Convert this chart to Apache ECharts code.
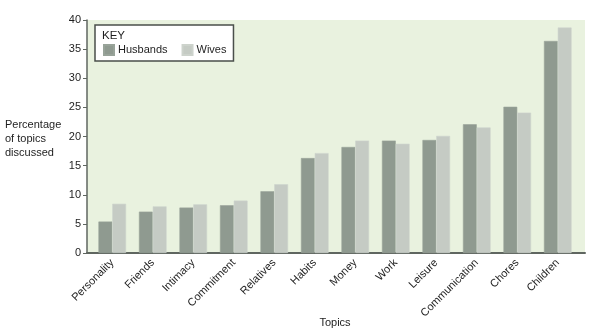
<!DOCTYPE html>
<html>
<head>
<meta charset="utf-8">
<script src="https://cdn.jsdelivr.net/npm/echarts@6/dist/echarts.min.js"></script>
<style>
  html, body { margin: 0; padding: 0; background: #ffffff; }
  #chart { width: 600px; height: 332px; }
</style>
</head>
<body>
<div id="chart"></div>
<script>
// Topics discussed by couples, share of each topic (%)
const topics = ['Personality', 'Friends', 'Intimacy', 'Commitment', 'Relatives', 'Habits',
                'Money', 'Work', 'Leisure', 'Communication', 'Chores', 'Children'];
const husbands = [5.4, 7.1, 7.8, 8.2, 10.6, 16.3, 18.2, 19.3, 19.4, 22.1, 25.1, 36.4];
const wives    = [8.45, 8.0, 8.35, 9.0, 11.8, 17.15, 19.3, 18.75, 20.1, 21.55, 24.1, 38.7];
const yTicks = { min: 0, max: 40, interval: 5 };

const FONT = '"Liberation Sans", Arial, sans-serif';
const TEXT = '#1e1e1e';
const AXIS = '#5f6660';
const C_HUS = '#8f9a90';
const C_WIV = '#c5cbc4';

const chart = echarts.init(document.getElementById('chart'), null, { renderer: 'canvas' });

chart.setOption({
  animation: false,
  textStyle: { fontFamily: FONT },
  title: {
    text: 'KEY',
    left: 102, top: 30, padding: 0,
    textStyle: { fontSize: 11.5, fontWeight: 'normal', color: TEXT, fontFamily: FONT }
  },
  legend: {
    data: ['Husbands', 'Wives'],
    left: 95, top: 25,
    padding: [19, 7, 5, 8],
    backgroundColor: '#ffffff',
    borderColor: '#4a4f4b',
    borderWidth: 1.5,
    icon: 'rect',
    itemWidth: 10, itemHeight: 10,
    itemGap: 14,
    textStyle: { fontSize: 11, color: TEXT, fontFamily: FONT, padding: [0, 0, 0, -1] }
  },
  grid: [
    // frame: shaded background, value axis, base line
    { left: 87, right: 15, top: 20, bottom: 79, show: true,
      backgroundColor: '#e9f2df', borderWidth: 0, outerBoundsMode: 'none', containLabel: false },
    // bars
    { left: 92, right: 22, top: 20, bottom: 79, outerBoundsMode: 'none', containLabel: false }
  ],
  xAxis: [
    { gridIndex: 0, type: 'value', min: 0, max: 1,
      axisLine: { show: true, lineStyle: { color: AXIS, width: 2 } },
      axisTick: { show: false }, axisLabel: { show: false }, splitLine: { show: false } },
    { gridIndex: 1, type: 'category', data: topics,
      axisLine: { show: false }, axisTick: { show: false },
      axisLabel: { rotate: 45, fontSize: 11, color: TEXT, margin: 8, interval: 0, fontFamily: FONT },
      name: 'Topics', nameLocation: 'middle', nameGap: 64, nameMoveOverlap: false,
      nameTextStyle: { fontSize: 11, color: TEXT, fontFamily: FONT } }
  ],
  yAxis: [
    { gridIndex: 0, type: 'value', min: yTicks.min, max: yTicks.max, interval: yTicks.interval,
      axisLine: { show: true, lineStyle: { color: AXIS, width: 1.5 } },
      axisTick: { show: true, length: 4, lineStyle: { color: AXIS, width: 1 } },
      axisLabel: { fontSize: 11, color: TEXT, margin: 6, fontFamily: FONT },
      splitLine: { show: false } },
    { gridIndex: 1, type: 'value', min: yTicks.min, max: yTicks.max, interval: yTicks.interval,
      show: false, splitLine: { show: false } }
  ],
  graphic: [
    { type: 'text', left: 5, top: 118,
      style: { text: 'Percentage\nof topics\ndiscussed', fontSize: 11, lineHeight: 14,
               fill: TEXT, fontFamily: FONT } }
  ],
  series: [
    { name: 'Husbands', type: 'bar', xAxisIndex: 1, yAxisIndex: 1, data: husbands,
      barWidth: 13.8, barGap: '0%',
      itemStyle: { color: C_HUS, borderColor: '#98a399', borderWidth: 0.6 } },
    { name: 'Wives', type: 'bar', xAxisIndex: 1, yAxisIndex: 1, data: wives,
      barWidth: 13.8, barGap: '0%',
      itemStyle: { color: C_WIV, borderColor: '#cdd3cc', borderWidth: 0.6 } }
  ]
});
</script>
</body>
</html>
